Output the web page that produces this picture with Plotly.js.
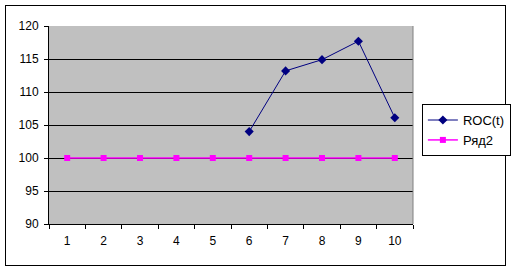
<!DOCTYPE html>
<html>
<head>
<meta charset="utf-8">
<script src="https://cdn.plot.ly/plotly-3.0.1.min.js"></script>
<style>
  html, body { margin: 0; padding: 0; background: #fff; }
  #wrap { position: relative; width: 512px; height: 271px; }
  #frame { position: absolute; left: 5px; top: 5px; width: 499px; height: 259px; border: 1px solid #000; box-sizing: content-box; pointer-events: none; }
  #chart { position: absolute; left: 0; top: 0; width: 512px; height: 271px; }
</style>
</head>
<body>
<div id="wrap">
  <div id="frame"></div>
  <div id="chart"></div>
</div>
<script>
const categories = ["1", "2", "3", "4", "5", "6", "7", "8", "9", "10"];
const rocCategories = ["6", "7", "8", "9", "10"];
const rocValues = [104.0, 113.2, 114.9, 117.7, 106.1];
const row2Values = [100, 100, 100, 100, 100, 100, 100, 100, 100, 100];
const seriesNames = ["ROC(t)", "Ряд2"];
const yTicks = [90, 95, 100, 105, 110, 115, 120];

const traces = [
  {
    x: rocCategories, y: rocValues, name: seriesNames[0],
    type: "scatter", mode: "lines+markers",
    line: { color: "#000080", width: 1 },
    marker: { symbol: "diamond", size: 7, color: "#000080" }
  },
  {
    x: categories, y: row2Values, name: seriesNames[1],
    type: "scatter", mode: "lines+markers",
    line: { color: "#FF00FF", width: 1.5 },
    marker: { symbol: "square", size: 6, color: "#FF00FF" }
  }
];

const layout = {
  width: 512, height: 271,
  margin: { l: 49, r: 99, t: 26, b: 47, pad: 0 },
  paper_bgcolor: "rgba(0,0,0,0)",
  plot_bgcolor: "#C0C0C0",
  font: { family: "Arial, 'Liberation Sans', sans-serif", size: 12, color: "#000" },
  showlegend: true,
  legend: {
    xref: "container", yref: "container",
    x: 0.824, xanchor: "left", y: 0.616, yanchor: "top",
    bordercolor: "#000", borderwidth: 1, bgcolor: "#fff",
    font: { size: 13 }, tracegroupgap: 0, itemwidth: 30
  },
  xaxis: {
    type: "category", categoryorder: "array", categoryarray: categories,
    range: [-0.5, 9.5], tickson: "boundaries",
    ticks: "outside", ticklen: 4, tickcolor: "#000", tickwidth: 1,
    ticklabelstandoff: 6,
    showgrid: false, showline: true, linecolor: "#000", linewidth: 1,
    zeroline: false, fixedrange: true,
    tickfont: { size: 12 }
  },
  yaxis: {
    range: [90, 120], tickvals: yTicks, ticktext: yTicks.map(String),
    ticks: "outside", ticklen: 4, tickcolor: "#000", tickwidth: 1,
    ticklabelstandoff: 3,
    showgrid: true, gridcolor: "#000", gridwidth: 1,
    showline: true, linecolor: "#000", linewidth: 1,
    zeroline: false, fixedrange: true,
    tickfont: { size: 12 }
  },
  shapes: [
    { type: "line", xref: "paper", yref: "paper", x0: 1, x1: 1, y0: 0, y1: 1,
      line: { color: "#808080", width: 1 } }
  ]
};

Plotly.newPlot("chart", traces, layout, { staticPlot: true, displayModeBar: false });
</script>
</body>
</html>
